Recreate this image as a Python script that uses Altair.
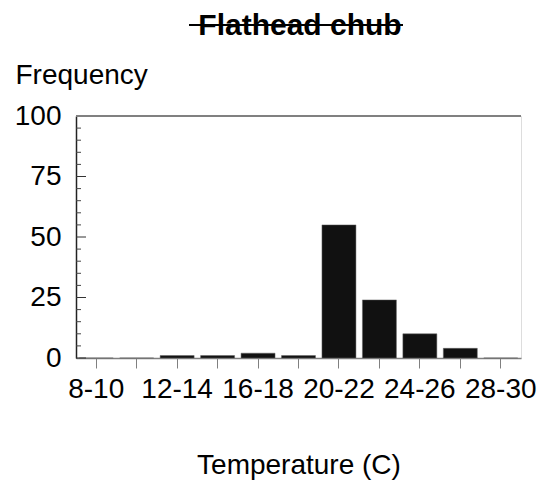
import altair as alt
import pandas as pd

categories = ["8-10", "10-12", "12-14", "14-16", "16-18", "18-20",
              "20-22", "22-24", "24-26", "26-28", "28-30"]
frequency = [0, 0, 1, 1, 2, 1, 55, 24, 10, 4, 0]
shown_labels = ["8-10", "12-14", "16-18", "20-22", "24-26", "28-30"]
major_ticks = [0, 25, 50, 75, 100]
minor_ticks = [5, 10, 15, 20, 30, 35, 40, 45, 55, 60, 65, 70, 80, 85, 90, 95]
chart_title = ["Flathead chub"]

FONT = "Liberation Sans"
FS = 28
W, H = 445, 242

df = pd.DataFrame({"temp": categories, "freq": frequency})

label_list = "[" + ",".join("'%s'" % s for s in shown_labels) + "]"

x_enc = alt.X(
    "temp:N", sort=categories,
    scale=alt.Scale(paddingInner=0.16, paddingOuter=0.08),
    axis=alt.Axis(
        title="Temperature (C)", titleFont=FONT, titleFontSize=FS,
        titleFontWeight="normal", titleColor="#000",
        titleBaseline="alphabetic", titleY=115,
        labelAngle=0, labelFont=FONT, labelFontSize=FS, labelColor="#000",
        labelOverlap=False, labelPadding=7,
        labelExpr="indexof(" + label_list + ", datum.value) >= 0 ? datum.label : ''",
        tickSize=10, tickColor="#808080", tickWidth=1,
        domainColor="#808080", domainWidth=1.5,
    ),
)
y_scale = alt.Scale(domain=[0, 100], nice=False)
y_enc = alt.Y(
    "freq:Q", scale=y_scale,
    axis=alt.Axis(
        title="Frequency", titleFont=FONT, titleFontSize=FS,
        titleFontWeight="normal", titleColor="#000", titleAngle=0,
        titleAlign="left", titleBaseline="alphabetic",
        titleX=-61, titleY=-33,
        values=major_ticks, labelFont=FONT, labelFontSize=FS,
        labelColor="#000", labelPadding=15,
        ticks=False, tickSize=0, grid=False,
        domainColor="#222", domainWidth=1.5,
    ),
)

bars = alt.Chart(df).mark_bar(color="#111111", stroke="#666", strokeWidth=0.5).encode(
    x=x_enc, y=y_enc
)

major = alt.Chart(pd.DataFrame({"v": major_ticks})).mark_rule(
    color="#333", strokeWidth=1
).encode(y=alt.Y("v:Q", scale=y_scale), x=alt.value(0), x2=alt.value(10))

minor = alt.Chart(pd.DataFrame({"v": minor_ticks})).mark_rule(
    color="#444", strokeWidth=1
).encode(y=alt.Y("v:Q", scale=y_scale), x=alt.value(0), x2=alt.value(5))

top_line = alt.Chart(pd.DataFrame({"a": [0]})).mark_rule(
    color="#808080", strokeWidth=2
).encode(y=alt.value(0), x=alt.value(0), x2=alt.value(W))

title_text = alt.Chart(pd.DataFrame({"t": chart_title})).mark_text(
    font=FONT, fontSize=30, fontWeight="bold", fontStyle="normal", color="#000",
    align="center", baseline="alphabetic"
).encode(text="t:N", x=alt.value(224), y=alt.value(-81))

strike = alt.Chart(pd.DataFrame({"a": [0]})).mark_rule(
    color="#000", strokeWidth=2
).encode(y=alt.value(-91), x=alt.value(113), x2=alt.value(327))

chart = alt.layer(bars, major, minor, top_line, title_text, strike).properties(
    width=W, height=H,
    autosize=alt.AutoSizeParams(type="none"),
    padding={"left": 76, "top": 116, "right": 23, "bottom": 123},
).configure_view(stroke="#000", strokeWidth=1.5).configure(background="white")

chart.save("out.html", embed_options={"renderer": "svg", "actions": False})
